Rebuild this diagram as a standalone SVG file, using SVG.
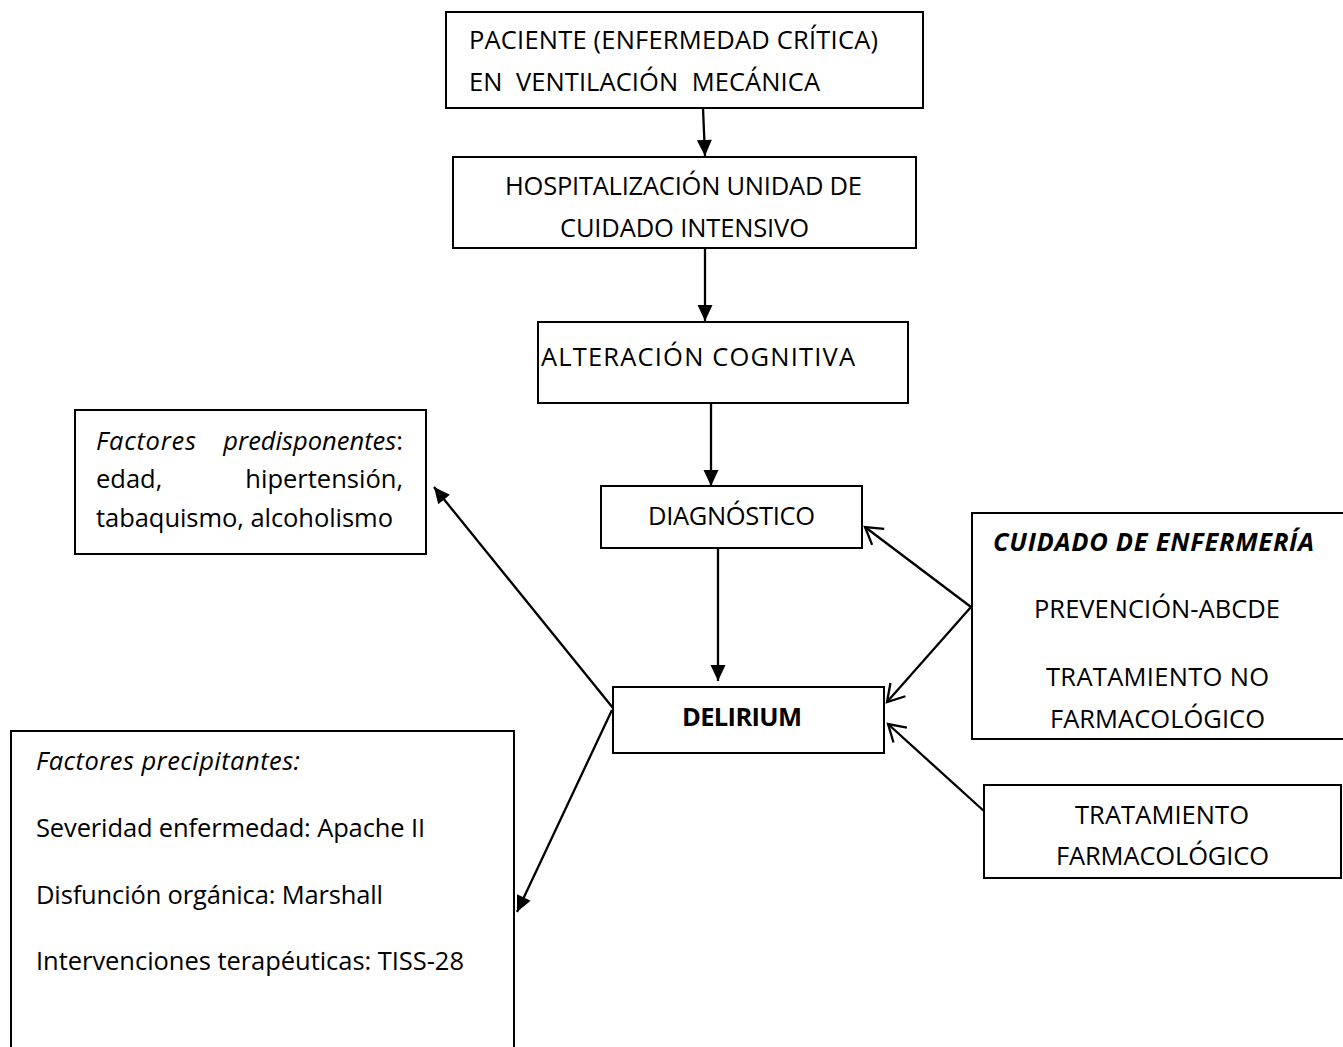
<svg xmlns="http://www.w3.org/2000/svg" width="1343" height="1047" viewBox="0 0 1343 1047">
  <style>
    .box { fill: #ffffff; stroke: #000000; stroke-width: 2; }
    .t { font-family: "Open Sans", "Noto Sans", "Liberation Sans", sans-serif; font-size: 25.5px; fill: #000000; }
    .c { text-anchor: middle; }
    .e { text-anchor: end; }
    .i { font-style: italic; }
    .b { font-weight: bold; }
    .line { fill: none; stroke: #000000; stroke-width: 2.3; }
    .solid { marker-end: url(#arrowFilled); }
    .open { marker-end: url(#arrowOpen); }
  </style>
  <defs>
    <marker id="arrowFilled" markerUnits="userSpaceOnUse" markerWidth="17" markerHeight="16" refX="16" refY="7.5" orient="auto" overflow="visible">
      <path d="M0,0 L16,7.5 L0,15 Z" fill="#000000"/>
    </marker>
    <marker id="arrowOpen" markerUnits="userSpaceOnUse" markerWidth="20" markerHeight="22" refX="17" refY="11" orient="auto" overflow="visible">
      <path d="M0.5,1 L17,11 L0.5,21" fill="none" stroke="#000000" stroke-width="2.3"/>
    </marker>
  </defs>

  <rect width="1343" height="1047" fill="#ffffff"/>

  <!-- connectors -->
  <g id="connectors">
    <line class="line solid" x1="703" y1="108" x2="705" y2="156"/>
    <line class="line solid" x1="705" y1="248" x2="705" y2="321"/>
    <line class="line solid" x1="711" y1="403" x2="711" y2="486"/>
    <line class="line solid" x1="718" y1="548" x2="718" y2="681"/>
    <line class="line solid" x1="613" y1="708" x2="434" y2="487"/>
    <line class="line solid" x1="612" y1="710" x2="517" y2="912"/>
    <line class="line open" x1="971" y1="607" x2="865" y2="527"/>
    <line class="line open" x1="971" y1="607" x2="887" y2="702"/>
    <line class="line open" x1="985" y1="812" x2="888" y2="724"/>
  </g>

  <g id="paciente">
    <rect class="box" x="446" y="12" width="477" height="96"/>
    <text class="t" x="469" y="49" textLength="409">PACIENTE (ENFERMEDAD CRÍTICA)</text>
    <text class="t" x="469" y="91" xml:space="preserve" textLength="351">EN  VENTILACIÓN  MECÁNICA</text>
  </g>

  <g id="hospitalizacion">
    <rect class="box" x="453" y="157" width="463" height="91"/>
    <text class="t c" x="683.5" y="195" textLength="357">HOSPITALIZACIÓN UNIDAD DE</text>
    <text class="t c" x="684.5" y="237" textLength="249">CUIDADO INTENSIVO</text>
  </g>

  <g id="alteracion">
    <rect class="box" x="538" y="322" width="370" height="81"/>
    <text class="t" x="541" y="366" textLength="314">ALTERACIÓN COGNITIVA</text>
  </g>

  <g id="diagnostico">
    <rect class="box" x="601" y="486" width="261" height="62"/>
    <text class="t c" x="731.5" y="525" textLength="167">DIAGNÓSTICO</text>
  </g>

  <g id="delirium">
    <rect class="box" x="613" y="687" width="271" height="66"/>
    <text class="t c b" x="742" y="726" textLength="120">DELIRIUM</text>
  </g>

  <g id="predisponentes">
    <rect class="box" x="75" y="410" width="351" height="144"/>
    <text class="t i" x="96" y="450" textLength="100">Factores</text>
    <text class="t e" x="403" y="450"><tspan class="i">predisponentes</tspan>:</text>
    <text class="t" x="96" y="488">edad,</text>
    <text class="t e" x="403" y="488">hipertensión,</text>
    <text class="t" x="96" y="527" textLength="297">tabaquismo, alcoholismo</text>
  </g>

  <g id="cuidado">
    <rect class="box" x="972" y="513" width="372" height="226"/>
    <text class="t c b i" x="1153.5" y="551" textLength="321">CUIDADO DE ENFERMERÍA</text>
    <text class="t c" x="1157" y="618" textLength="246">PREVENCIÓN-ABCDE</text>
    <text class="t c" x="1157.5" y="686" textLength="223">TRATAMIENTO NO</text>
    <text class="t c" x="1157.5" y="728" textLength="215">FARMACOLÓGICO</text>
  </g>

  <g id="farmacologico">
    <rect class="box" x="984" y="785" width="357" height="93"/>
    <text class="t c" x="1162" y="824" textLength="174">TRATAMIENTO</text>
    <text class="t c" x="1162.5" y="865" textLength="213">FARMACOLÓGICO</text>
  </g>

  <g id="precipitantes">
    <rect class="box" x="11" y="731" width="503" height="330"/>
    <text class="t i" x="36" y="770" textLength="264">Factores precipitantes:</text>
    <text class="t" x="36" y="837" textLength="389">Severidad enfermedad: Apache II</text>
    <text class="t" x="36" y="904" textLength="347">Disfunción orgánica: Marshall</text>
    <text class="t" x="36" y="970" textLength="428">Intervenciones terapéuticas: TISS-28</text>
  </g>
</svg>
